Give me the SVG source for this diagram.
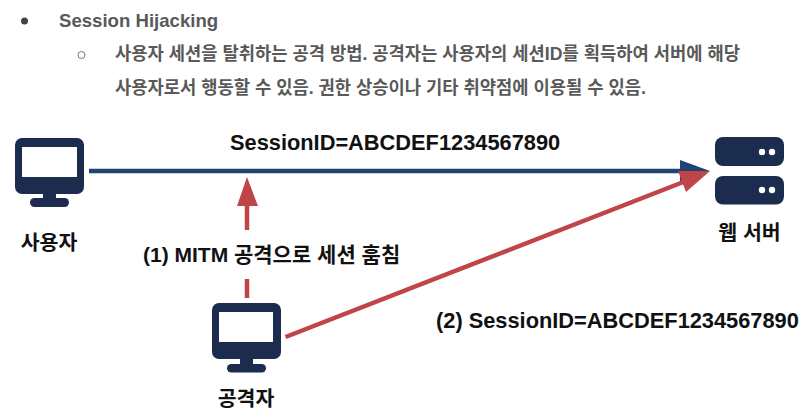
<svg xmlns="http://www.w3.org/2000/svg" width="807" height="415" viewBox="0 0 807 415">
<style>
text{font-family:"Liberation Sans","Noto Sans CJK KR",sans-serif}
.head{font-size:18.6px;font-weight:700;fill:#595959}
.body{font-size:17.7px;font-weight:700;fill:#595959}
.lbl{font-size:21.8px;font-weight:700;fill:#111}
.kor{font-size:20.5px;font-weight:700;fill:#111}
.mix{font-size:21px;font-weight:700;fill:#111}
.dark{fill:#1b2c4e}
.scr{fill:#fff}
</style>
<rect width="807" height="415" fill="#fff"/>
<g id="description">
<circle cx="24.500" cy="21" r="3.500" fill="#444"/>
<text class="head" x="59" y="27">Session Hijacking</text>
<circle cx="81.500" cy="55" r="3.500" fill="#fff" stroke="#777" stroke-width="1"/>
<text class="body" x="115" y="60">사용자 세션을 탈취하는 공격 방법. 공격자는 사용자의 세션ID를 획득하여 서버에 해당</text>
<text class="body" x="115" y="94">사용자로서 행동할 수 있음. 권한 상승이나 기타 취약점에 이용될 수 있음.</text>
</g>
<g id="connectors">
<line x1="89" y1="171" x2="684" y2="171" stroke="#1f4373" stroke-width="4.500"/>
<polygon points="680,160 710,171 680,182" fill="#1f4373"/>
<line x1="247" y1="298" x2="247" y2="279" stroke="#bf4548" stroke-width="4.500"/>
<line x1="247" y1="230" x2="247" y2="204" stroke="#bf4548" stroke-width="4.500"/>
<polygon points="247,177 258,206 237,206" fill="#bf4548"/>
<line x1="285.500" y1="337" x2="686" y2="181" stroke="#bf4548" stroke-width="4.500"/>
<polygon points="710,171 686,192 678,171" fill="#bf4548"/>
</g>
<g id="user">
<rect class="dark" x="15" y="138" width="69" height="56" rx="7"/>
<rect class="scr" x="22" y="147" width="55" height="30"/>
<rect class="dark" x="43" y="193" width="13" height="7"/>
<rect class="dark" x="30" y="198" width="39" height="9" rx="4.500"/>
<text class="kor" x="49" y="250" text-anchor="middle">사용자</text>
</g>
<g id="server">
<rect class="dark" x="715" y="137" width="69" height="29" rx="8"/>
<circle class="scr" cx="762" cy="152" r="3.200"/>
<circle class="scr" cx="772" cy="152" r="3.200"/>
<rect class="dark" x="715" y="176" width="69" height="28.500" rx="8"/>
<circle class="scr" cx="762" cy="190" r="3.200"/>
<circle class="scr" cx="772" cy="190" r="3.200"/>
<text class="kor" x="749.500" y="240" text-anchor="middle">웹 서버</text>
</g>
<g id="attacker">
<rect class="dark" x="212" y="303" width="69" height="56" rx="7"/>
<rect class="scr" x="219" y="312" width="54" height="30"/>
<rect class="dark" x="240" y="358" width="13" height="7"/>
<rect class="dark" x="227" y="364" width="39" height="8.500" rx="4.200"/>
<text class="kor" x="246" y="406" text-anchor="middle">공격자</text>
</g>
<g id="labels">
<text class="lbl" x="230" y="150">SessionID=ABCDEF1234567890</text>
<text class="mix" x="143" y="262">(1) MITM 공격으로 세션 훔침</text>
<text class="lbl" x="436" y="328">(2) SessionID=ABCDEF1234567890</text>
</g>
</svg>
